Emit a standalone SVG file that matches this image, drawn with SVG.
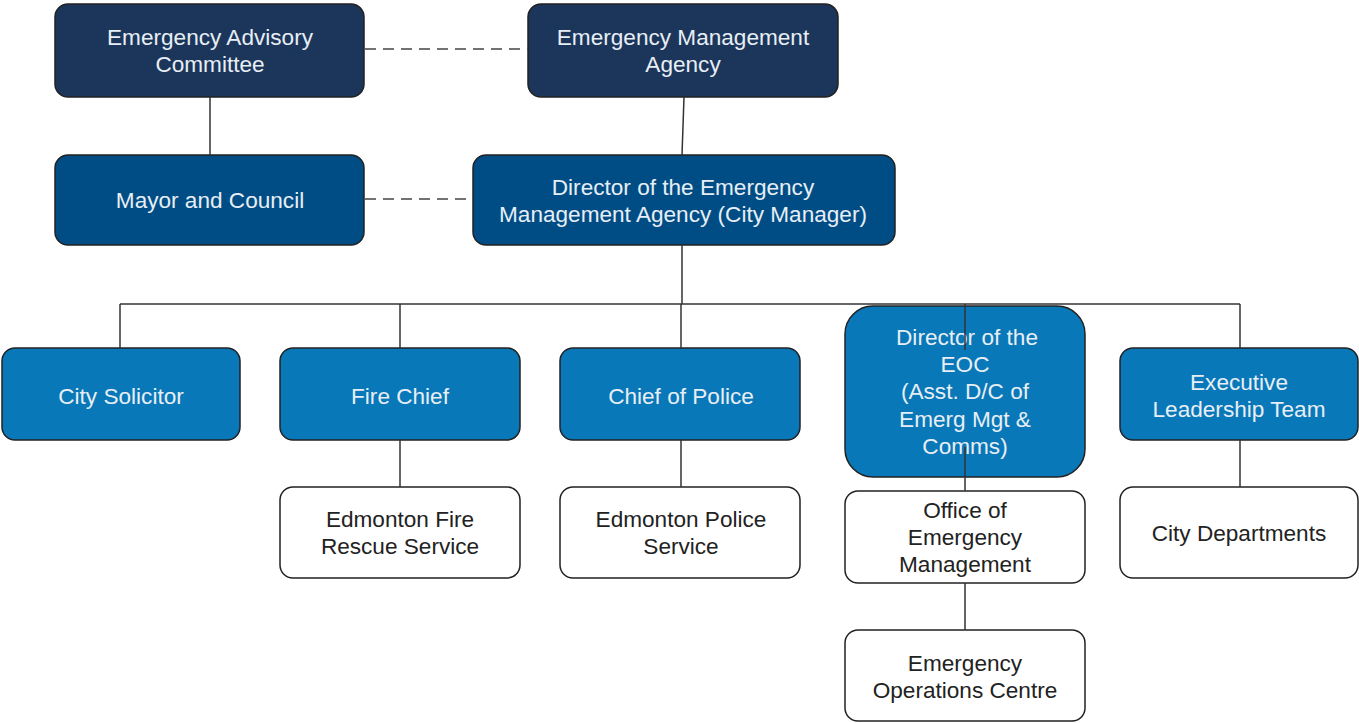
<svg xmlns="http://www.w3.org/2000/svg" width="1359" height="723" viewBox="0 0 1359 723">
<style>
.box{stroke:#222;stroke-width:1.5}
.navy{fill:#1b365a}
.mid{fill:#004d85}
.light{fill:#0878b8}
.white{fill:#ffffff}
text{font-family:"Liberation Sans",Arial,sans-serif;font-size:22.6px;text-anchor:middle}
.lt{fill:#e8eef5}
.dk{fill:#222}
.ln{stroke:#333;stroke-width:1.5;fill:none}
.dash{stroke:#444;stroke-width:1.5;fill:none;stroke-dasharray:11 7}
</style>
<rect width="1359" height="723" fill="#ffffff"/>
<g id="n-eac"><rect class="box navy" x="55" y="4" width="309" height="93" rx="13"/><text class="lt" x="210" y="45">Emergency Advisory</text><text class="lt" x="210" y="72">Committee</text></g>
<g id="n-ema"><rect class="box navy" x="528" y="4" width="310" height="93" rx="13"/><text class="lt" x="683" y="45">Emergency Management</text><text class="lt" x="683" y="72">Agency</text></g>
<g id="n-mayor"><rect class="box mid" x="55" y="155" width="309" height="90" rx="13"/><text class="lt" x="210" y="208">Mayor and Council</text></g>
<g id="n-director"><rect class="box mid" x="473" y="155" width="422" height="90" rx="13"/><text class="lt" x="683" y="195">Director of the Emergency</text><text class="lt" x="683" y="222">Management Agency (City Manager)</text></g>
<g id="n-solicitor"><rect class="box light" x="2" y="348" width="238" height="92" rx="13"/><text class="lt" x="121" y="404">City Solicitor</text></g>
<g id="n-fire"><rect class="box light" x="280" y="348" width="240" height="92" rx="13"/><text class="lt" x="400" y="404">Fire Chief</text></g>
<g id="n-police"><rect class="box light" x="560" y="348" width="240" height="92" rx="13"/><text class="lt" x="681" y="404">Chief of Police</text></g>
<g id="n-eocdir"><rect class="box light" x="845" y="306" width="240" height="171" rx="28"/><text class="lt" x="967" y="345">Director of the</text><text class="lt" x="965" y="372">EOC</text><text class="lt" x="965" y="399">(Asst. D/C of</text><text class="lt" x="965" y="427">Emerg Mgt &amp;</text><text class="lt" x="965" y="454">Comms)</text></g>
<g id="n-elt"><rect class="box light" x="1120" y="348" width="238" height="92" rx="13"/><text class="lt" x="1239" y="390">Executive</text><text class="lt" x="1239" y="417">Leadership Team</text></g>
<g id="n-efrs"><rect class="box white" x="280" y="487" width="240" height="91" rx="13"/><text class="dk" x="400" y="527">Edmonton Fire</text><text class="dk" x="400" y="554">Rescue Service</text></g>
<g id="n-eps"><rect class="box white" x="560" y="487" width="240" height="91" rx="13"/><text class="dk" x="681" y="527">Edmonton Police</text><text class="dk" x="681" y="554">Service</text></g>
<g id="n-oem"><rect class="box white" x="845" y="491" width="240" height="92" rx="13"/><text class="dk" x="965" y="518">Office of</text><text class="dk" x="965" y="545">Emergency</text><text class="dk" x="965" y="572">Management</text></g>
<g id="n-depts"><rect class="box white" x="1120" y="487" width="238" height="91" rx="13"/><text class="dk" x="1239" y="541">City Departments</text></g>
<g id="n-eoc"><rect class="box white" x="845" y="630" width="240" height="91" rx="13"/><text class="dk" x="965" y="671">Emergency</text><text class="dk" x="965" y="698">Operations Centre</text></g>
<g id="connectors">
<path class="dash" d="M365 49H528"/>
<path class="dash" d="M365 199H473"/>
<path class="ln" d="M210 97V155"/>
<path class="ln" d="M684 97L682 155"/>
<path class="ln" d="M682 245V304"/>
<path class="ln" d="M120 304H1240"/>
<path class="ln" d="M120 304V348"/>
<path class="ln" d="M400 304V348"/>
<path class="ln" d="M681 304V348"/>
<path class="ln" d="M965 304V350"/>
<path class="ln" d="M1240 304V348"/>
<path class="ln" d="M400 440V487"/>
<path class="ln" d="M681 440V487"/>
<path class="ln" d="M1240 440V487"/>
<path class="ln" d="M965 447V491"/>
<path class="ln" d="M965 583V630"/>
</g>
</svg>
